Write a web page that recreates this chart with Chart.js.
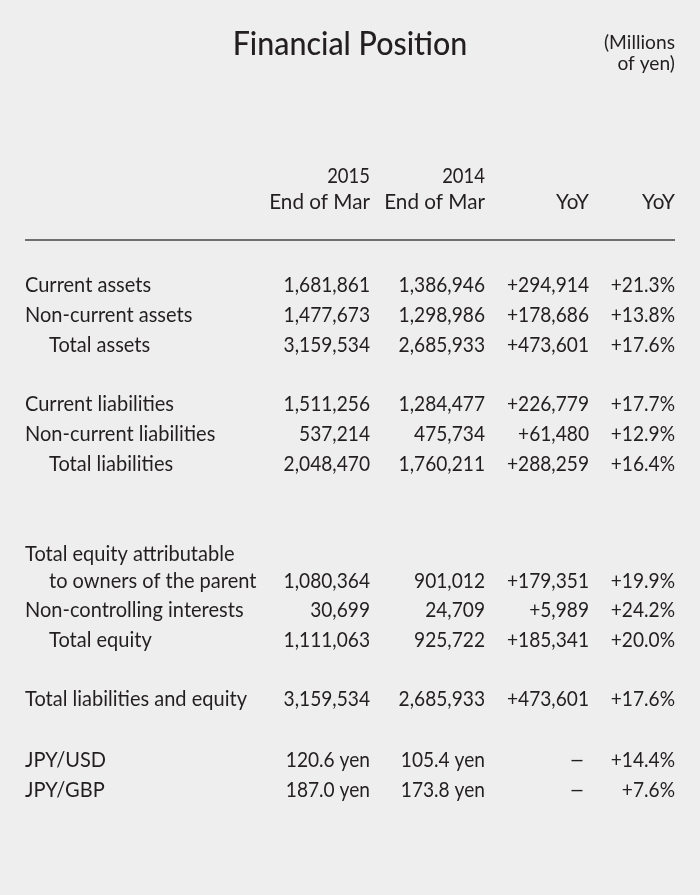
<!DOCTYPE html>
<html>
<head>
<meta charset="utf-8">
<title>Financial Position</title>
<script src="https://cdn.jsdelivr.net/npm/chart.js@4/dist/chart.umd.min.js"></script>
<style>
  html, body { margin: 0; padding: 0; background: #eeeeee; }
  canvas { display: block; }
</style>
</head>
<body>
<canvas id="chart" width="700" height="895"></canvas>
<script>
// table data (millions of yen, exchange rates in yen)
const rowLabels = [
  "Current assets",
  "Non-current assets",
  "Total assets",
  "Current liabilities",
  "Non-current liabilities",
  "Total liabilities",
  ["Total equity attributable", "to owners of the parent"],
  "Non-controlling interests",
  "Total equity",
  "Total liabilities and equity",
  "JPY/USD",
  "JPY/GBP"
];
const end2015 = [1681861, 1477673, 3159534, 1511256, 537214, 2048470, 1080364, 30699, 1111063, 3159534, 120.6, 187.0];
const end2014 = [1386946, 1298986, 2685933, 1284477, 475734, 1760211, 901012, 24709, 925722, 2685933, 105.4, 173.8];
const yoyAmount = [294914, 178686, 473601, 226779, 61480, 288259, 179351, 5989, 185341, 473601, null, null];
const yoyPct = [21.3, 13.8, 17.6, 17.7, 12.9, 16.4, 19.9, 24.2, 20.0, 17.6, 14.4, 7.6];
const isRate = [false, false, false, false, false, false, false, false, false, false, true, true];
const isSubtotal = [false, false, true, false, false, true, false, false, true, false, false, false];
const columnHeads = [["2015", "End of Mar"], ["2014", "End of Mar"], ["", "YoY"], ["", "YoY"]];

// layout (scale units: x ~ page width, y = row slots of 30px)
const rowSlot = [0, 1, 2, 3.97, 4.97, 5.97, 9.85, 10.83, 11.83, 13.8, 15.82, 16.82];
const colRight = [370, 485, 589, 675];
const labelX = 25, indentX = 49;
const INK = "#231f20";
const BODY_FONT = "400 22px Lato, 'Open Sans', sans-serif";
const TITLE_FONT = "500 32px Lato, 'Open Sans', sans-serif";
const NOTE_FONT = "400 20px Lato, sans-serif";
const LABEL_SQUEEZE = 0.91;
const NUM_SQUEEZE = 0.87;

const fmtInt = v => v.toLocaleString("en-US");
const cellText = [
  i => isRate[i] ? end2015[i].toFixed(1) + " yen" : fmtInt(end2015[i]),
  i => isRate[i] ? end2014[i].toFixed(1) + " yen" : fmtInt(end2014[i]),
  i => yoyAmount[i] == null ? "–" : "+" + fmtInt(yoyAmount[i]),
  i => "+" + yoyPct[i].toFixed(1) + "%"
];

function drawText(ctx, text, x, y, align, font, squeeze) {
  ctx.save();
  ctx.font = font;
  ctx.fillStyle = INK;
  ctx.textBaseline = "alphabetic";
  ctx.textAlign = align;
  ctx.translate(x, y);
  ctx.scale(squeeze, 1);
  ctx.fillText(text, 0, 0);
  ctx.restore();
}

const tablePlugin = {
  id: "tableText",
  beforeDraw(chart) {
    const ctx = chart.ctx;
    ctx.save();
    ctx.fillStyle = "#eeeeee";
    ctx.fillRect(0, 0, chart.width, chart.height);
    ctx.restore();
  },
  afterDatasetsDraw(chart) {
    const ctx = chart.ctx;
    const xs = chart.scales.x, ys = chart.scales.y;
    const base = 7.8; // cap centre -> baseline

    // title and unit note
    drawText(ctx, "Financial Position", xs.getPixelForValue(350), ys.getPixelForValue(-8.05) + 11.5, "center", TITLE_FONT, 0.95);
    drawText(ctx, "(Millions", xs.getPixelForValue(675), ys.getPixelForValue(-8.1) + 7, "right", NOTE_FONT, 0.96);
    drawText(ctx, "of yen)", xs.getPixelForValue(675), ys.getPixelForValue(-7.4) + 7, "right", NOTE_FONT, 0.96);

    // column heads
    columnHeads.forEach((h, c) => {
      const x = xs.getPixelForValue(colRight[c]);
      if (h[0]) drawText(ctx, h[0], x, ys.getPixelForValue(-3.65) + base, "right", BODY_FONT, 0.84);
      drawText(ctx, h[1], x, ys.getPixelForValue(-2.78) + base, "right", BODY_FONT, 0.94);
    });

    // rule under the heads
    ctx.save();
    ctx.strokeStyle = "#6e6e6e";
    ctx.lineWidth = 2;
    const ry = Math.round(ys.getPixelForValue(-1.48));
    ctx.beginPath();
    ctx.moveTo(xs.getPixelForValue(labelX), ry);
    ctx.lineTo(xs.getPixelForValue(colRight[3]), ry);
    ctx.stroke();
    ctx.restore();

    // row labels
    rowLabels.forEach((lab, i) => {
      if (Array.isArray(lab)) {
        const n = lab.length;
        lab.forEach((line, k) => {
          const slot = rowSlot[i] - (n - 1 - k) * 0.88;
          const x = xs.getPixelForValue(k === 0 ? labelX : indentX);
          drawText(ctx, line, x, ys.getPixelForValue(slot) + base, "left", BODY_FONT, LABEL_SQUEEZE);
        });
      } else {
        const x = xs.getPixelForValue(isSubtotal[i] ? indentX : labelX);
        drawText(ctx, lab, x, ys.getPixelForValue(rowSlot[i]) + base, "left", BODY_FONT, LABEL_SQUEEZE);
      }
    });

    // value cells, placed at each point element
    chart.data.datasets.forEach((ds, c) => {
      const meta = chart.getDatasetMeta(c);
      meta.data.forEach((pt, i) => {
        const txt = cellText[c](i);
        if (txt === "–") {
          drawText(ctx, txt, pt.x - 4, pt.y + base, "right", BODY_FONT, 1.25);
        } else {
          drawText(ctx, txt, pt.x, pt.y + base, "right", BODY_FONT, NUM_SQUEEZE);
        }
      });
    });
  }
};

const cellPoints = c => rowLabels.map((_, i) => ({ x: colRight[c], y: rowSlot[i] }));

new Chart(document.getElementById("chart"), {
  type: "scatter",
  data: {
    datasets: [
      { label: "2015 End of Mar", data: cellPoints(0) },
      { label: "2014 End of Mar", data: cellPoints(1) },
      { label: "YoY", data: cellPoints(2) },
      { label: "YoY %", data: cellPoints(3) }
    ]
  },
  options: {
    responsive: false,
    animation: false,
    devicePixelRatio: 1,
    layout: { padding: 0 },
    elements: { point: { radius: 0, hoverRadius: 0 } },
    plugins: { legend: { display: false }, tooltip: { enabled: false }, title: { display: false } },
    scales: {
      x: { type: "linear", display: false, min: 0, max: 700 },
      y: { type: "linear", display: false, reverse: true, min: -284.5 / 30, max: (895 - 284.5) / 30 }
    }
  },
  plugins: [tablePlugin]
});
</script>
</body>
</html>
